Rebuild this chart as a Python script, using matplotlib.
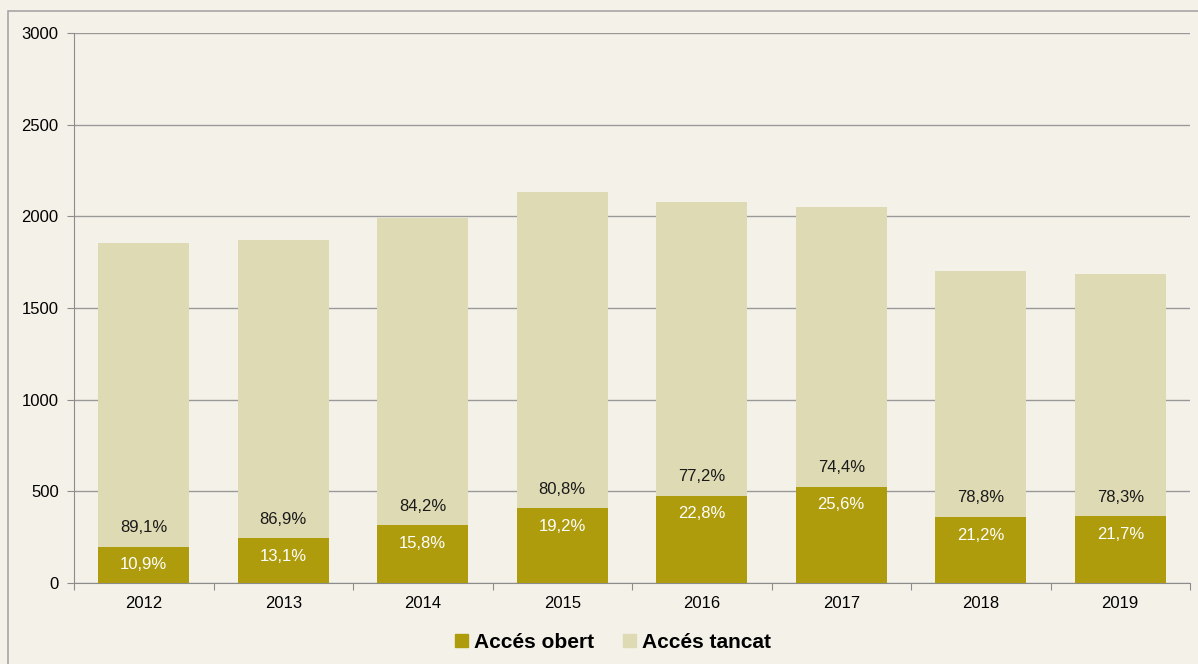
import matplotlib.pyplot as plt
from matplotlib.patches import Patch, Rectangle

plt.rcParams['font.family'] = ['Liberation Sans', 'DejaVu Sans']

years = ['2012', '2013', '2014', '2015', '2016', '2017', '2018', '2019']
obert = [197, 245, 316, 409, 475, 524, 360, 365]
tancat = [1658, 1626, 1675, 1724, 1603, 1527, 1342, 1321]
pct_obert = ['10,9%', '13,1%', '15,8%', '19,2%', '22,8%', '25,6%', '21,2%', '21,7%']
pct_tancat = ['89,1%', '86,9%', '84,2%', '80,8%', '77,2%', '74,4%', '78,8%', '78,3%']

bg = '#F4F2E8'
c_obert = '#AE9C0D'
c_tancat = '#DEDAB3'
gray = '#8C8C8C'

fig = plt.figure(figsize=(11.98, 6.64), dpi=100, facecolor=bg)
ax = fig.add_axes([74 / 1198, 1 - 583 / 664, 1116 / 1198, 550 / 664])
ax.set_facecolor(bg)

# frame around the chart area
fig.patches.append(Rectangle((8 / 1198, -0.1), 1.2, 1 - 11 / 664 + 0.1,
                             transform=fig.transFigure, fill=False,
                             edgecolor='#A6A6A6', lw=1.2))

x = range(len(years))
ax.bar(x, obert, width=0.65, color=c_obert, zorder=3)
ax.bar(x, tancat, width=0.65, bottom=obert, color=c_tancat, zorder=3)

for i in x:
    ax.annotate(pct_obert[i], (i, obert[i]), xytext=(0, -18), textcoords='offset pixels',
                ha='center', va='center', color='white', fontsize=12, zorder=4)
    ax.annotate(pct_tancat[i], (i, obert[i]), xytext=(0, 19), textcoords='offset pixels',
                ha='center', va='center', color='#1a1a1a', fontsize=12, zorder=4)

ax.set_xlim(-0.5, len(years) - 0.5)
ax.set_ylim(0, 3000)
ax.set_yticks(range(0, 3001, 500))
ax.set_xticks([i + 0.5 for i in range(-1, len(years))], minor=False)
ax.set_xticklabels([])
ax.set_xticks(list(x), minor=True)
ax.set_xticklabels(years, minor=True)
ax.tick_params(axis='x', which='minor', length=0, pad=9, labelsize=12)
ax.tick_params(axis='x', which='major', length=5, color=gray)
ax.tick_params(axis='y', length=5, color=gray, labelsize=12, pad=6)

ax.yaxis.grid(True, color='#999999', lw=1, zorder=0)
for s in ['top', 'right']:
    ax.spines[s].set_visible(False)
for s in ['left', 'bottom']:
    ax.spines[s].set_color(gray)

handles = [Patch(color=c_obert), Patch(color=c_tancat)]
fig.legend(handles, ['Accés obert', 'Accés tancat'], loc='center',
           bbox_to_anchor=(613 / 1198, 1 - 642 / 664), ncol=2, frameon=False,
           prop={'weight': 'bold', 'size': 15}, handlelength=0.6, handleheight=0.6,
           handletextpad=0.3, columnspacing=1.4)

fig.savefig('out.png', dpi=100, facecolor=bg)
